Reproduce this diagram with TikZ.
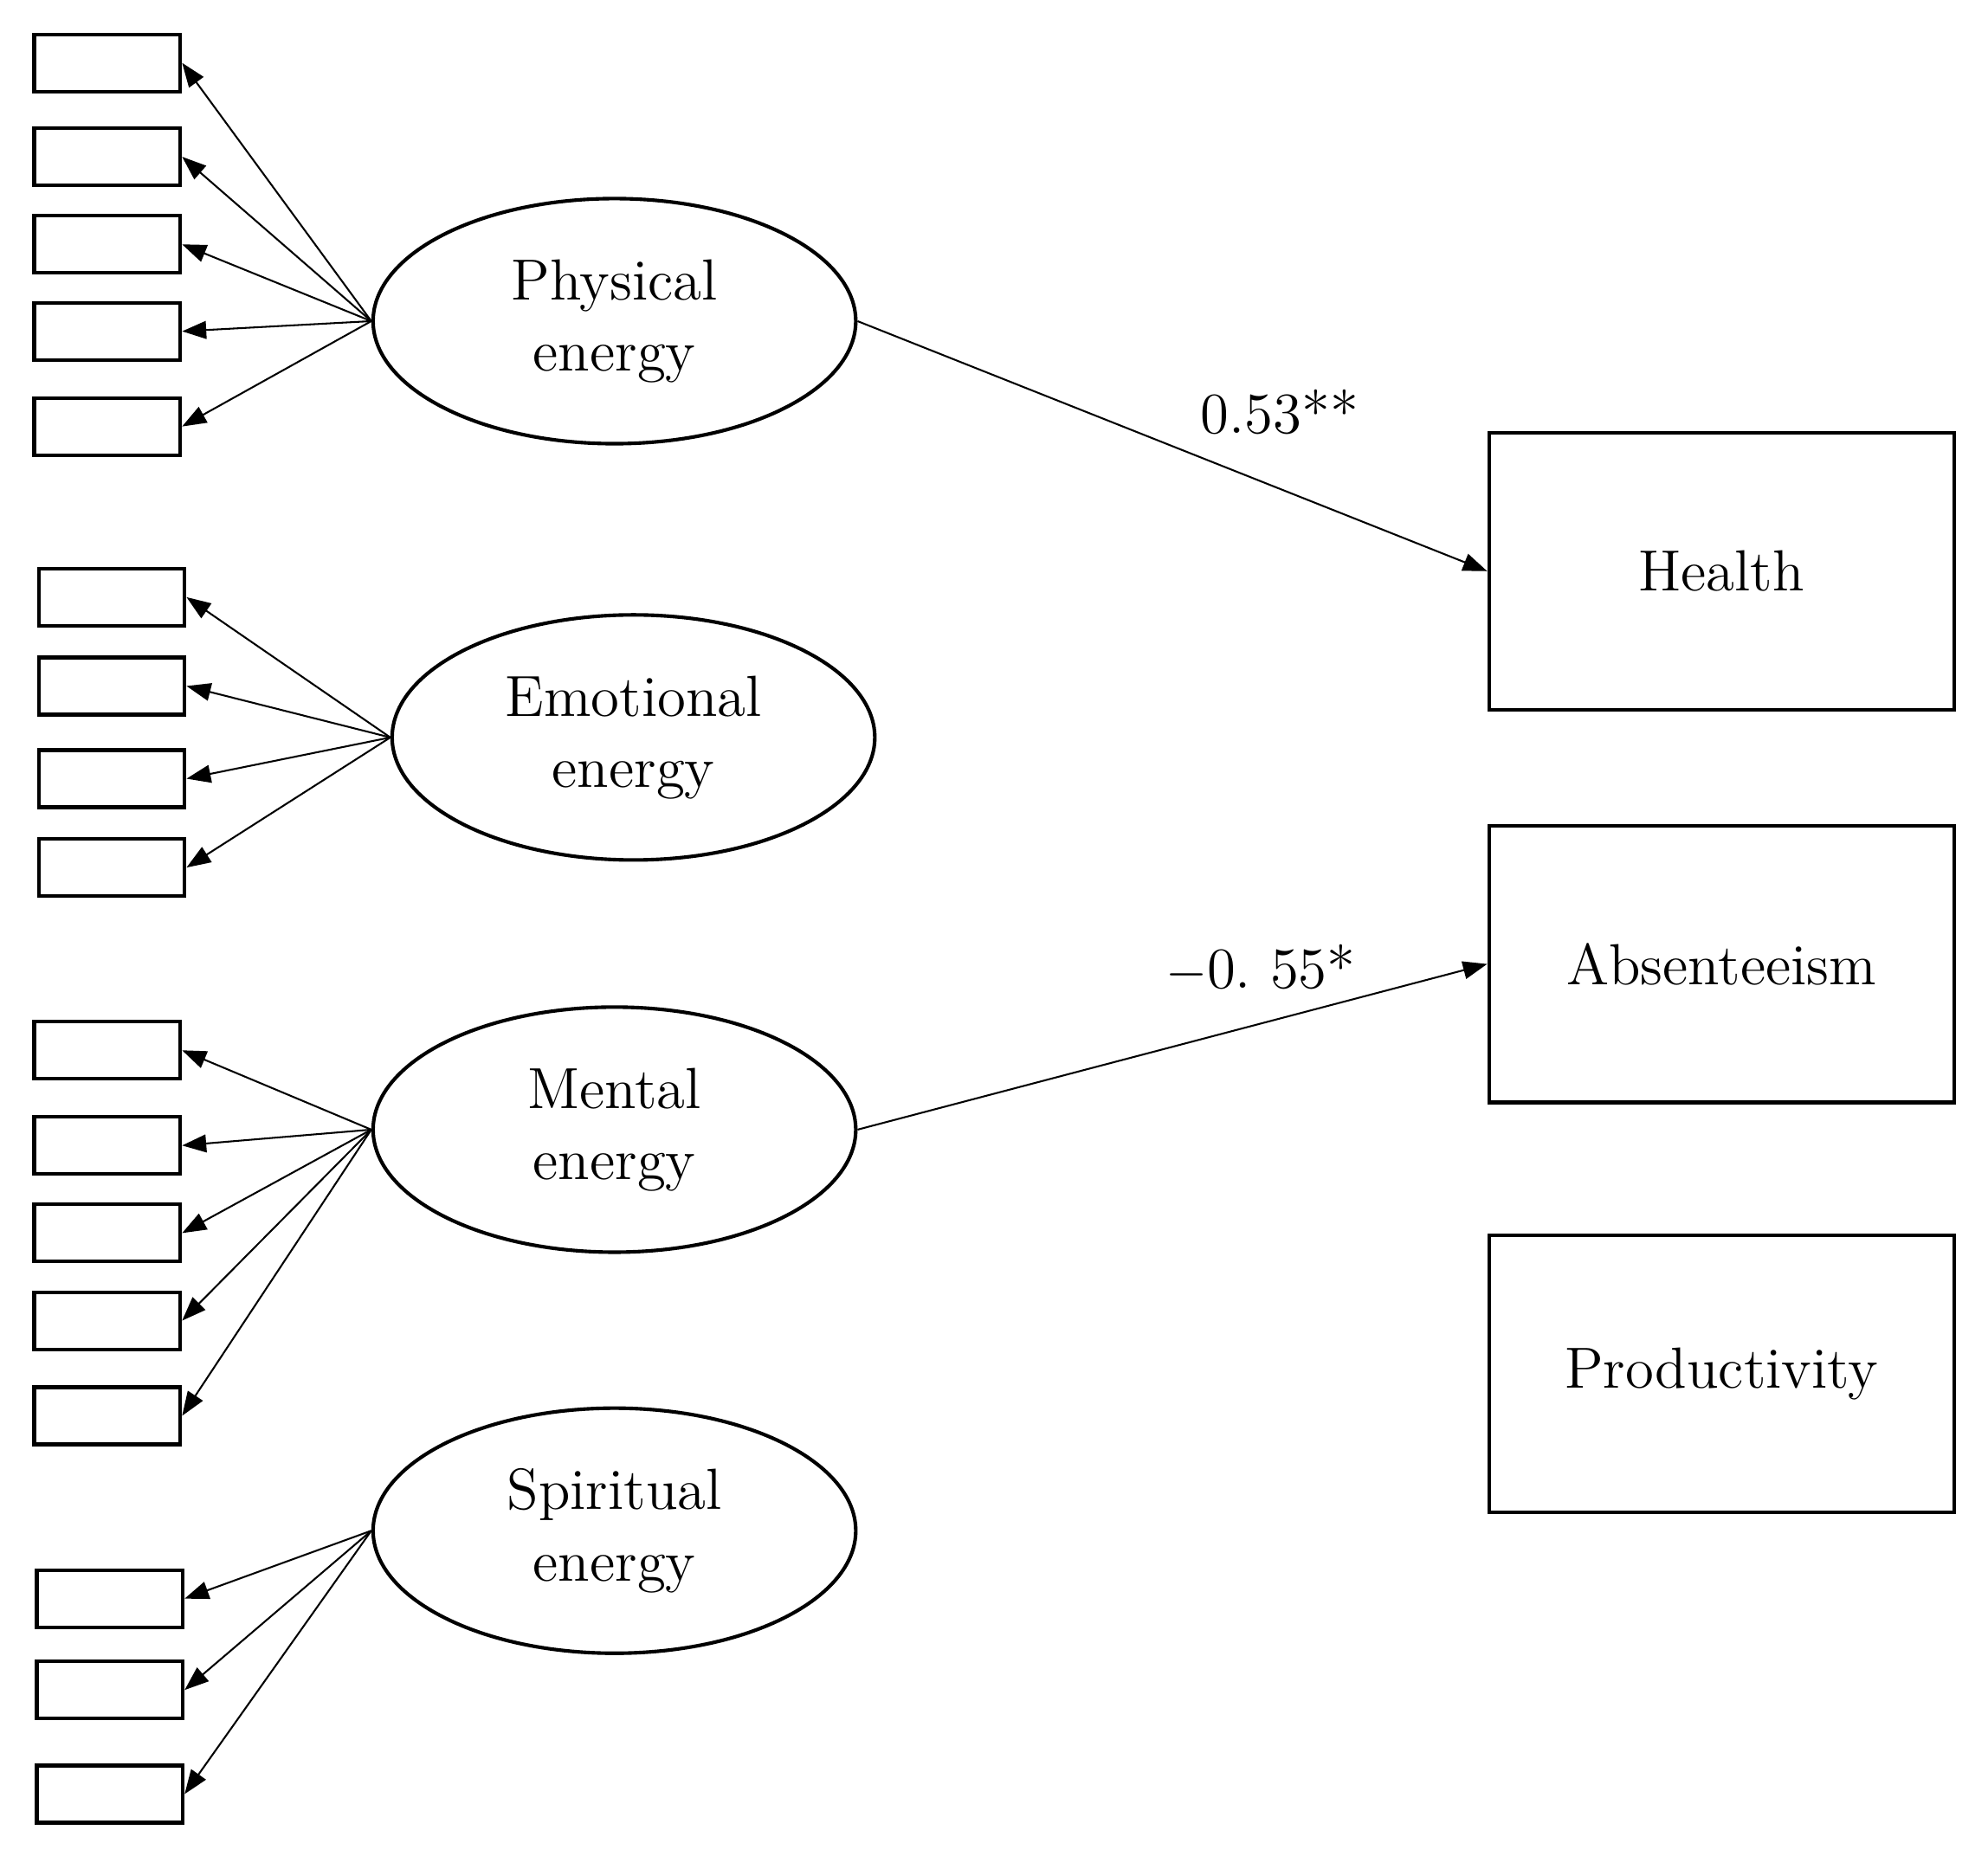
\documentclass[tikz,border=0pt]{standalone}
\usetikzlibrary{shapes.geometric,arrows.meta}

\begin{document}
\begin{tikzpicture}[x=0.01cm,y=-0.01cm,
   font=\fontsize{13}{16}\selectfont,
   indicator/.style={draw,line width=0.8pt,minimum width=1.15cm,minimum height=0.45cm,inner sep=0pt},
   factor/.style={draw,ellipse,line width=0.8pt,minimum width=3.8cm,minimum height=1.93cm,inner sep=0pt,align=center},
   outcome/.style={draw,line width=0.8pt,minimum width=3.66cm,minimum height=2.18cm,inner sep=0pt},
   load/.style={thin,-{Triangle[length=0.19cm,width=0.14cm]}}]
\useasboundingbox (0,0) rectangle (1566,1462);
\node[factor] (phys) at (484,253) {Physical\\energy};
\node[factor] (emot) at (499,581) {Emotional\\energy};
\node[factor] (ment) at (484,890) {Mental\\energy};
\node[factor] (spir) at (484,1206) {Spiritual\\energy};
\node[outcome] (health) at (1356,450) {Health};
\node[outcome] (absent) at (1356,759.5) {Absenteeism};
\node[outcome] (prod) at (1356,1082.5) {Productivity};
% indicators
\foreach \y [count=\i] in {49.5,123.5,192.5,261,336}
  {\node[indicator] (p\i) at (84.5,\y) {}; \draw[load] (phys.west) -- (p\i.east);}
\foreach \y [count=\i] in {470.5,540.5,613.5,683.5}
  {\node[indicator] (e\i) at (88,\y) {}; \draw[load] (emot.west) -- (e\i.east);}
\foreach \y [count=\i] in {827.5,902.5,971.5,1040.5,1115.5}
  {\node[indicator] (m\i) at (84.5,\y) {}; \draw[load] (ment.west) -- (m\i.east);}
\foreach \y [count=\i] in {1259.5,1331.5,1413.5}
  {\node[indicator] (s\i) at (86.5,\y) {}; \draw[load] (spir.west) -- (s\i.east);}
% paths
\draw[load] (phys.east) -- node[pos=0.67,above=0.3cm] {0.53**} (health.west);
\draw[load] (ment.east) -- node[pos=0.64,above=0.12cm] {$-$0.\ 55*} (absent.west);
\end{tikzpicture}
\end{document}
